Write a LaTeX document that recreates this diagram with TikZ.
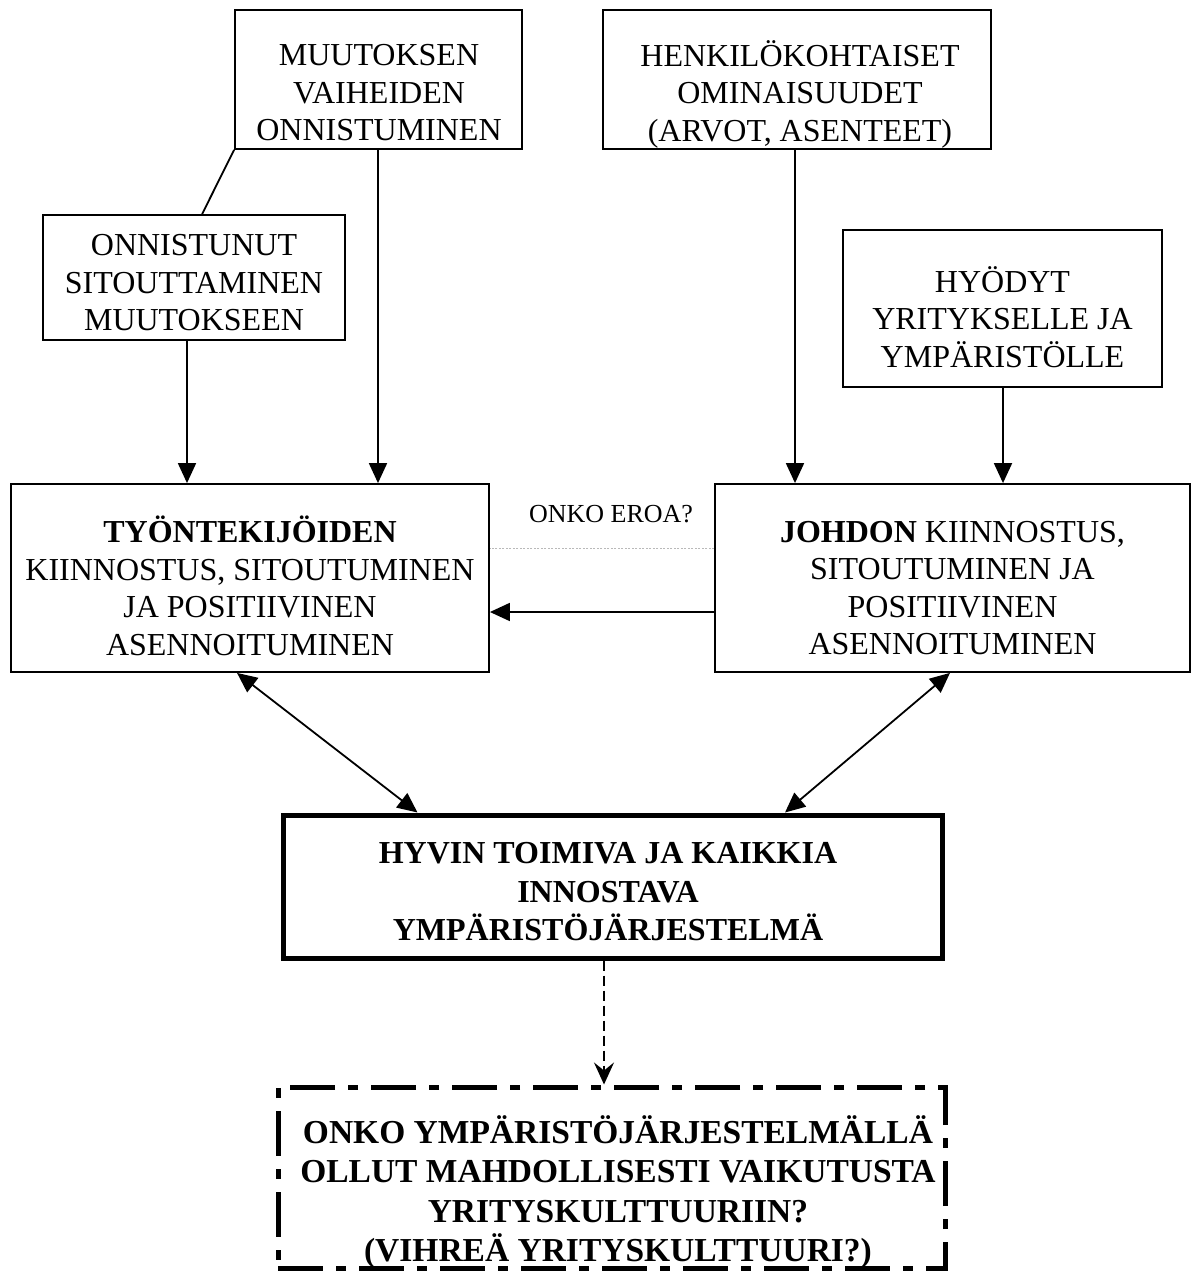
\documentclass[tikz,border=0pt]{standalone}
\usepackage{fontspec}
\setmainfont{Liberation Serif}
\usetikzlibrary{arrows.meta,calc}
\begin{document}
\begin{tikzpicture}[x=1pt,y=-1pt,
  box/.style={draw,line width=1.8pt,rectangle,inner sep=0pt},
  thickbox/.style={draw,line width=5pt,rectangle,inner sep=0pt},
  dashbox/.style={draw,line width=5pt,rectangle,inner sep=0pt,dash pattern=on 45pt off 13pt on 10pt off 13pt},
  txt/.style={align=center,inner sep=0pt,font=\fontsize{32}{37.5}\selectfont},
  btxt/.style={align=center,inner sep=0pt,font=\fontsize{32}{38.5}\selectfont\bfseries},
  bbtxt/.style={align=center,inner sep=0pt,font=\fontsize{33.5}{39.5}\selectfont\bfseries},
  arr/.style={line width=1.8pt,-{Triangle[length=20pt,width=18pt]}},
  darr/.style={line width=1.8pt,{Triangle[length=20pt,width=18pt]}-{Triangle[length=20pt,width=18pt]}},
  dsharr/.style={line width=1.8pt,dash pattern=on 10pt off 5pt,-{Stealth[length=22pt,width=20pt,inset=8pt]}},
  link/.style={line width=1.8pt}]
\useasboundingbox (0,0) rectangle (1193,1277);
% boxes
\node[box,minimum width=287pt,minimum height=139pt] (m) at (378.5,79.5) {};
\node[box,minimum width=388pt,minimum height=139pt] (h) at (797,79.5) {};
\node[box,minimum width=302pt,minimum height=125pt] (o) at (194,277.5) {};
\node[box,minimum width=319pt,minimum height=157pt] (y) at (1002.5,308.5) {};
\node[box,minimum width=478pt,minimum height=188pt] (t) at (250,578) {};
\node[box,minimum width=475pt,minimum height=188pt] (j) at (952.5,578) {};
\node[thickbox,minimum width=659pt,minimum height=143pt] (s) at (612.5,886.5) {};
\node[dashbox,minimum width=667pt,minimum height=181pt] (b) at (611.5,1177.5) {};
% texts
\node[txt] (mt) at (379,93) {MUUTOKSEN\\VAIHEIDEN\\ONNISTUMINEN};
\node[txt] (ht) at (800,94) {HENKILÖKOHTAISET\\OMINAISUUDET\\(ARVOT, ASENTEET)};
\node[txt] (ot) at (194,283) {ONNISTUNUT\\SITOUTTAMINEN\\MUUTOKSEEN};
\node[txt] (yt) at (1002.5,317) {HYÖDYT\\YRITYKSELLE JA\\YMPÄRISTÖLLE};
\node[txt] (tt) at (250,586) {\textbf{TYÖNTEKIJÖIDEN}\\KIINNOSTUS, SITOUTUMINEN\\JA POSITIIVINEN\\ASENNOITUMINEN};
\node[txt] (jt) at (952.5,588) {\textbf{JOHDON} KIINNOSTUS,\\SITOUTUMINEN JA\\POSITIIVINEN\\ASENNOITUMINEN};
\node[btxt] (st) at (608,892) {HYVIN TOIMIVA JA KAIKKIA\\INNOSTAVA\\YMPÄRISTÖJÄRJESTELMÄ};
\node[bbtxt] (bt) at (618,1192) {ONKO YMPÄRISTÖJÄRJESTELMÄLLÄ\\OLLUT MAHDOLLISESTI VAIKUTUSTA\\YRITYSKULTTUURIIN?\\(VIHREÄ YRITYSKULTTUURI?)};
\node[inner sep=0pt,font=\fontsize{26}{30}\selectfont] (q) at (611,514) {ONKO EROA?};
% connectors
\draw[link] (m.south west) -- ([xshift=160pt]o.north west);
\draw[arr] ([xshift=-0.5pt]m.south) -- ([xshift=-0.5pt]m.south |- t.north);
\draw[arr] ([xshift=-7pt]o.south) -- ([xshift=-7pt]o.south |- t.north);
\draw[arr] ([xshift=-2pt]h.south) -- ([xshift=-2pt]h.south |- j.north);
\draw[arr] ([xshift=0.5pt]y.south) -- ([xshift=0.5pt]y.south |- j.north);
\draw[arr] ([yshift=-34pt]j.west) -- ([yshift=-34pt]j.west -| t.east);
\draw[gray!55,line width=1pt,dash pattern=on 2pt off 1.5pt] ([yshift=30pt]j.west) -- ([yshift=30pt]j.west -| t.east);
\draw[darr] ([xshift=-13pt]t.south) -- ([xshift=-195pt]s.north);
\draw[darr] ([xshift=-2.5pt]j.south) -- ([xshift=172.5pt]s.north);
\draw[dsharr] ([xshift=-8.5pt]s.south) -- ([xshift=-8.5pt]s.south |- b.north);
\end{tikzpicture}
\end{document}
